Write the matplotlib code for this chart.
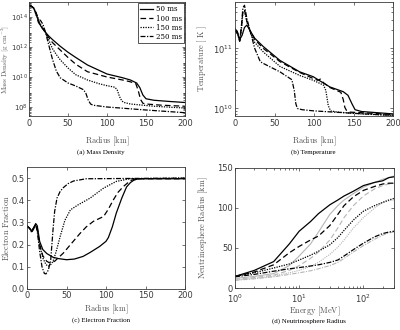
import matplotlib
matplotlib.use("Agg")
import matplotlib.pyplot as plt
import numpy as np

plt.rcParams['mathtext.fontset'] = 'cm'
plt.rcParams['font.family'] = 'DejaVu Sans'

# ---- data ----
labels = ['50 ms', '100 ms', '150 ms', '250 ms']

# (a) mass density, log10 [g cm^-3]
rho_r_50 = [0, 3, 6, 9, 12, 15, 20, 25, 30, 40, 50, 60, 75, 100, 120, 130, 138, 142, 146, 150, 160, 180, 200]
rho_50 = [14.75, 14.72, 14.58, 14.25, 13.75, 13.4, 13.05, 12.75, 12.5, 12.05, 11.65, 11.3, 10.8, 10.2,
          9.95, 9.8, 9.6, 9.3, 8.8, 8.55, 8.45, 8.37, 8.3]
rho_r_100 = [0, 3, 6, 9, 12, 15, 20, 25, 30, 40, 50, 60, 75, 100, 120, 130, 137, 140, 143, 146, 150, 170, 200]
rho_100 = [14.75, 14.72, 14.6, 14.2, 13.65, 13.4, 13.05, 12.65, 12.3, 11.8, 11.3, 10.85, 10.35, 10.0,
           9.8, 9.68, 9.55, 9.1, 8.5, 8.25, 8.2, 8.12, 8.05]
rho_r_150 = [0, 3, 6, 9, 12, 15, 20, 25, 30, 35, 40, 50, 60, 75, 90, 100, 110, 113, 116, 119, 122, 130, 160, 200]
rho_150 = [14.75, 14.72, 14.6, 14.15, 13.8, 13.5, 13.1, 12.5, 11.9, 11.5, 11.15, 10.6, 10.15, 9.8, 9.55,
           9.42, 9.32, 9.15, 8.7, 8.4, 8.3, 8.2, 8.05, 7.93]
rho_r_250 = [0, 3, 6, 9, 12, 15, 18, 21, 25, 30, 35, 40, 50, 60, 70, 73, 76, 79, 82, 100, 150, 200]
rho_250 = [14.75, 14.72, 14.6, 14.3, 13.9, 13.75, 13.5, 13.0, 12.2, 11.2, 10.4, 9.95, 9.6, 9.4, 9.15,
           8.9, 8.45, 8.2, 8.12, 8.0, 7.8, 7.62]

# (b) temperature, log10 [K]
tem_r_50 = [0, 3, 6, 9, 12, 15, 19, 25, 36, 57, 82, 99, 110, 120, 137, 143, 148, 152, 160, 200]
tem_50 = [11.33, 11.28, 11.15, 11.22, 11.35, 11.39, 11.3, 11.17, 11.03, 10.8, 10.61, 10.53, 10.44,
          10.36, 10.28, 10.22, 10.08, 9.98, 9.95, 9.91]
tem_r_100 = [0, 3, 6, 8, 10, 12, 15, 19, 25, 36, 57, 82, 99, 105, 108, 112, 120, 134, 137, 139, 141, 145, 160, 200]
tem_100 = [11.32, 11.27, 11.14, 11.35, 11.62, 11.65, 11.45, 11.3, 11.15, 11.0, 10.78, 10.6, 10.5,
           10.47, 10.49, 10.43, 10.35, 10.27, 10.15, 10.02, 9.97, 9.94, 9.93, 9.9]
tem_r_150 = [0, 3, 6, 8, 10, 12, 15, 19, 25, 36, 57, 82, 99, 112, 115, 118, 121, 130, 160, 200]
tem_150 = [11.3, 11.25, 11.12, 11.3, 11.6, 11.62, 11.45, 11.28, 11.1, 10.94, 10.7, 10.55, 10.47,
           10.39, 10.3, 10.05, 9.96, 9.94, 9.91, 9.885]
tem_r_250 = [0, 3, 6, 8, 10, 12, 15, 19, 25, 32, 36, 45, 57, 72, 75, 77, 79, 85, 100, 150, 200]
tem_250 = [11.3, 11.25, 11.12, 11.35, 11.68, 11.72, 11.5, 11.3, 11.0, 10.78, 10.75, 10.69, 10.61,
           10.48, 10.3, 10.08, 10.0, 9.98, 9.96, 9.92, 9.885]

# (c) electron fraction
ye_r_50 = [0, 3, 6, 9, 11, 13, 16, 20, 25, 33, 40, 50, 60, 71, 80, 92, 100, 103, 108, 113, 120, 126, 131, 135, 139, 145, 200]
ye_50 = [0.28, 0.275, 0.262, 0.28, 0.295, 0.285, 0.215, 0.178, 0.16, 0.143, 0.137, 0.132, 0.135, 0.147,
         0.165, 0.192, 0.215, 0.232, 0.28, 0.342, 0.41, 0.46, 0.48, 0.49, 0.495, 0.497, 0.497]
ye_r_100 = [0, 3, 6, 9, 11, 13, 16, 20, 25, 29, 35, 46, 55, 67, 75, 84, 97, 103, 109, 115, 122, 128, 132, 138, 200]
ye_100 = [0.285, 0.275, 0.26, 0.28, 0.29, 0.275, 0.2, 0.15, 0.125, 0.117, 0.125, 0.162, 0.2, 0.25, 0.28,
          0.305, 0.327, 0.36, 0.4, 0.435, 0.462, 0.48, 0.49, 0.497, 0.497]
ye_r_150 = [0, 3, 6, 9, 11, 13, 16, 20, 24, 27, 30, 33, 37, 42, 48, 55, 65, 80, 97, 113, 130, 200]
ye_150 = [0.285, 0.275, 0.258, 0.275, 0.29, 0.265, 0.2, 0.14, 0.11, 0.103, 0.11, 0.125, 0.17, 0.237,
          0.31, 0.357, 0.38, 0.41, 0.455, 0.485, 0.497, 0.5]
ye_r_250 = [0, 3, 6, 9, 11, 13, 16, 19, 22, 24, 27, 30, 33, 35, 38, 42, 46, 52, 59, 75, 200]
ye_250 = [0.285, 0.275, 0.255, 0.275, 0.29, 0.26, 0.17, 0.1, 0.07, 0.068, 0.085, 0.13, 0.27, 0.35, 0.41,
          0.44, 0.457, 0.475, 0.487, 0.497, 0.5]

# (d) neutrinosphere radius [km] vs energy [MeV]
energy = [1, 2, 4, 7, 10, 15, 20, 30, 40, 50, 70, 100, 150, 200, 250, 300]
nsR_50 = [14.5, 22, 33, 55, 71, 83, 93, 104, 110, 115, 121, 128, 132, 134, 138, 139]
nsR_100 = [14.5, 20, 29, 44, 52, 60, 65, 78, 92, 103, 114, 122, 127, 130, 131, 131]
nsR_150 = [14.5, 19, 25, 30, 35, 41, 46, 54, 63, 72, 85, 96, 103, 107, 110, 112]
nsR_250 = [14, 17, 21, 24, 25.5, 27.5, 29, 32, 35, 40, 48, 56, 64, 68, 70, 71]
nsR_50g = [12, 14.5, 18, 28, 40, 55, 70, 92, 103, 110, 118, 126, 132, 136, 138, 140]
nsR_100g = [11, 13, 16, 22, 28, 37, 45, 60, 75, 88, 103, 115, 124, 128, 130, 131]
nsR_150g = [10, 12, 15, 19, 22, 27, 32, 42, 51, 60, 75, 88, 100, 107, 109, 110]
nsR_250g = [9.5, 11.5, 14, 17, 19, 21.5, 24, 28, 32, 37, 45, 53, 61, 66, 69, 70]

# ---- styles ----
styles = ['-', (0, (4.5, 2.5)), (0, (1, 1)), (0, (4, 1.2, 1, 1.2))]
tick_col = '#3a3a3a'
lab_col = '#555555'
gray = '#b5b5b5'

fig = plt.figure(figsize=(4, 3.3), dpi=100)
W, H = 400.0, 330.0


def make_ax(l, t, r, b):
    return fig.add_axes([l / W, 1 - b / H, (r - l) / W, (b - t) / H])


def style_ax(ax, xpad=2.5, ysize=6, ypad=1.8):
    for s in ax.spines.values():
        s.set_color(tick_col)
        s.set_linewidth(0.6)
    ax.tick_params(which='both', direction='in', top=True, right=True,
                   colors=tick_col, labelsize=6, width=0.5, pad=2.5)
    ax.tick_params(axis='x', which='both', pad=xpad)
    ax.tick_params(axis='y', which='both', labelsize=ysize, pad=ypad)
    ax.tick_params(which='major', length=2.5)
    ax.tick_params(which='minor', length=1.5)


def ylab(ax, text, x, size=6):
    ax.set_ylabel(text, fontsize=size, color=lab_col)
    ax.yaxis.set_label_coords(x, 0.5)


def xlab(ax, text, y):
    ax.set_xlabel(text, fontsize=6, color=lab_col)
    ax.xaxis.set_label_coords(0.5, y)


def caption(x, y, text):
    fig.text(x / W, 1 - y / H, text, ha='center', va='center',
             fontsize=5, family='Liberation Serif')


# (a)
ax = make_ax(29, 2, 185, 116)
for rr, vv, ls, lb in zip([rho_r_50, rho_r_100, rho_r_150, rho_r_250],
                          [rho_50, rho_100, rho_150, rho_250], styles, labels):
    ax.plot(rr, 10 ** np.array(vv), color='k', ls=ls, lw=0.9, label=lb)
ax.set_yscale('log')
ax.set_xlim(0, 200)
ax.set_ylim(10 ** 7.4, 1e15)
ax.set_yticks([1e8, 1e10, 1e12, 1e14])
ax.set_xticks([0, 50, 100, 150, 200])
style_ax(ax, ysize=5, ypad=1.0)
ylab(ax, r'$\mathrm{Mass\ Density\ [g\ cm^{-3}]}$', -0.113, size=5)
xlab(ax, r'$\mathrm{Radius\ [km]}$', -0.16)
leg = ax.legend(loc='upper right', handlelength=1.9, labelspacing=0.15,
                borderaxespad=0.2, borderpad=0.3, handletextpad=0.3, fancybox=False,
                prop={'family': 'serif', 'size': 5})
leg.get_frame().set_edgecolor(tick_col)
leg.get_frame().set_linewidth(0.6)
leg.get_frame().set_alpha(1)
caption(101, 152, '(a) Mass Density')

# (b)
ax = make_ax(235, 2, 393, 116)
for rr, vv, ls in zip([tem_r_50, tem_r_100, tem_r_150, tem_r_250],
                      [tem_50, tem_100, tem_150, tem_250], styles):
    ax.plot(rr, 10 ** np.array(vv), color='k', ls=ls, lw=0.9)
ax.set_yscale('log')
ax.set_xlim(0, 200)
ax.set_ylim(10 ** 9.875, 10 ** 11.775)
ax.set_yticks([1e10, 1e11])
ax.set_xticks([0, 50, 100, 150, 200])
style_ax(ax)
ylab(ax, r'$\mathrm{Temperature\ [\ K\ ]}$', -0.165)
xlab(ax, r'$\mathrm{Radius\ [km]}$', -0.16)
caption(313, 152, '(b) Temperature')

# (c)
ax = make_ax(27, 167, 185, 289)
for rr, vv, ls in zip([ye_r_50, ye_r_100, ye_r_150, ye_r_250],
                      [ye_50, ye_100, ye_150, ye_250], styles):
    ax.plot(rr, vv, color='k', ls=ls, lw=0.9)
ax.set_xlim(0, 200)
ax.set_ylim(0, 0.55)
ax.set_yticks([0, 0.1, 0.2, 0.3, 0.4, 0.5])
ax.set_xticks([0, 50, 100, 150, 200])
style_ax(ax, xpad=1.5)
ylab(ax, r'$\mathrm{Electron\ Fraction}$', -0.1)
xlab(ax, r'$\mathrm{Radius\ [km]}$', -0.115)
caption(101, 320, '(c) Electron Fraction')

# (d)
ax = make_ax(235, 168, 394, 288)
for vv, ls in zip([nsR_50g, nsR_100g, nsR_150g, nsR_250g], styles):
    ax.plot(energy, vv, color=gray, ls=ls, lw=0.8)
for vv, ls in zip([nsR_50, nsR_100, nsR_150, nsR_250], styles):
    ax.plot(energy, vv, color='k', ls=ls, lw=0.9)
ax.set_xscale('log')
ax.set_xlim(1, 300)
ax.set_ylim(0, 150)
ax.set_yticks([0, 50, 100, 150])
style_ax(ax, xpad=3.2)
ylab(ax, r'$\mathrm{Neutrinosphere\ Radius\ [km]}$', -0.16)
xlab(ax, r'$\mathrm{Energy\ [MeV]}$', -0.135)
caption(309, 321, '(d) Neutrinosphere Radius')

fig.savefig('out.png', dpi=100)
